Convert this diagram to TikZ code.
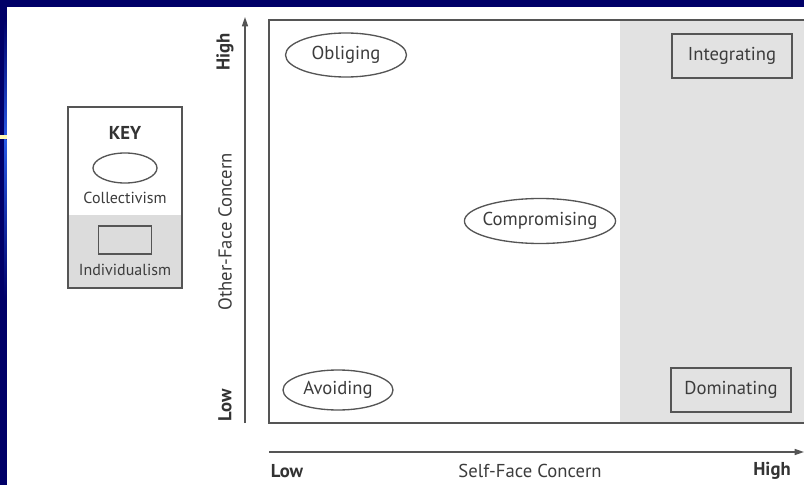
\documentclass[tikz,border=0pt]{standalone}
\usepackage{fontspec}
\setmainfont{PT Sans}
\usetikzlibrary{shapes.geometric,arrows.meta}

\definecolor{navyband}{RGB}{0,0,104}
\definecolor{brightband}{RGB}{40,90,230}
\definecolor{inkgray}{RGB}{60,60,60}
\definecolor{linegray}{RGB}{85,85,85}
\definecolor{stipple}{RGB}{226,226,226}
\definecolor{keyshade}{RGB}{220,220,220}

\tikzset{every picture/.style={line width=0.75pt}}
\tikzset{
  ovalstyle/.style={draw=linegray, ellipse, line width=1pt, inner sep=0pt, text=inkgray, font=\fontsize{14}{16}\selectfont},
  boxstyle/.style={draw=linegray, rectangle, line width=1pt, inner sep=0pt, text=inkgray, font=\fontsize{14}{16}\selectfont},
  axistext/.style={text=inkgray, font=\fontsize{14}{16}\selectfont},
  endtext/.style={text=black!80, font=\fontsize{14}{16}\selectfont\bfseries},
  keytext/.style={text=inkgray, font=\fontsize{12}{14}\selectfont},
  axisarrow/.style={draw=linegray, line width=1.1pt, -{Triangle[length=7pt,width=4.5pt]}}
}

\begin{document}
\begin{tikzpicture}[x=0.75pt,y=0.75pt,yscale=-1,xscale=1]
	\useasboundingbox (0,0) rectangle (804,485);

	%Slide frame
	\fill [navyband] (0,0) rectangle (804,7.5);
	\fill [navyband] (0,0) rectangle (7,485);
	\shade [top color=navyband, bottom color=brightband] (4.3,20) rectangle (6.3,140);
	\shade [top color=brightband, bottom color=navyband] (4.3,140) rectangle (6.3,300);
	\fill [yellow!30] (0,135) rectangle (7,139);

	%Shaded column (individualism)
	\fill [stipple] (620,20) rectangle (804,423);
	%Plot frame
	\draw [linegray, line width=1.1pt] (804,20) -- (269,20) -- (269,423) -- (804,423);

	%Axes
	\coordinate (ybase) at (245,423);
	\coordinate (ytip) at (245,17);
	\coordinate (xbase) at (269,452);
	\coordinate (xtip) at (804,452);
	\draw [axisarrow] (ybase) -- (ytip);
	\draw [axisarrow] (xbase) -- (xtip);

	% Axis labels
	\node [endtext, rotate=90] (yhigh) at (225,52) {High};
	\node [endtext, rotate=90] (ylow) at (225,405) {Low};
	\node [axistext, rotate=90] (yname) at (225,232) {Other-Face Concern};
	\node [endtext] (xlow) at (287,471) {Low};
	\node [axistext] (xname) at (530,471) {Self-Face Concern};
	\node [endtext] (xhigh) at (772,471) {High};

	% Styles
	\node [ovalstyle, minimum width=90.75pt, minimum height=33pt] (obliging) at (346,55) {Obliging};
	\node [ovalstyle, minimum width=82.5pt, minimum height=30pt] (avoiding) at (338,390) {Avoiding};
	\node [ovalstyle, inner xsep=-3pt, minimum width=112.5pt, minimum height=33.75pt] (compromising) at (540,221) {Compromising};
	\node [boxstyle, minimum width=90pt, minimum height=33pt] (integrating) at (732,56) {Integrating};
	\node [boxstyle, minimum width=90pt, minimum height=33pt] (dominating) at (731,390) {Dominating};

	%Key
	\fill [keyshade] (68,215) rectangle (182,288);
	\draw [linegray, line width=1pt] (68,107) rectangle (182,288);
	\node [text=black!80, font=\fontsize{14}{16}\selectfont\bfseries] (keytitle) at (125,133) {KEY};
	\node [ovalstyle, minimum width=48pt, minimum height=22.5pt] (keyoval) at (125,168) {};
	\node [keytext] (collectivism) at (125,198) {Collectivism};
	\node [boxstyle, minimum width=39.75pt, minimum height=21pt] (keybox) at (125,240) {};
	\node [keytext] (individualism) at (125,270) {Individualism};

\end{tikzpicture}
\end{document}
